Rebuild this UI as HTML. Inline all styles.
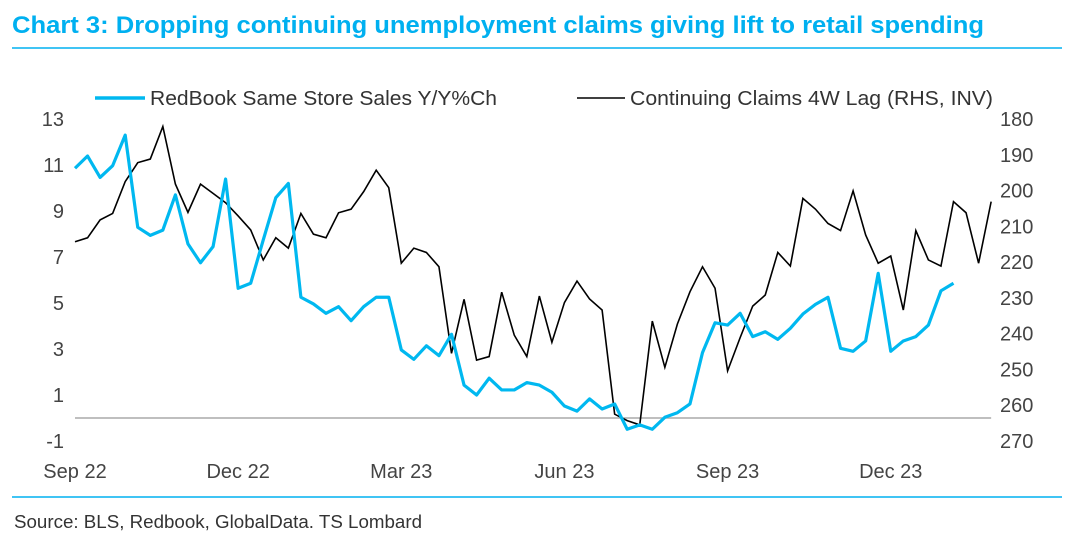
<!DOCTYPE html>
<html><head><meta charset="utf-8"><style>
body{margin:0;background:#fff;font-family:"Liberation Sans",sans-serif;}
#wrap{position:relative;width:1069px;height:542px;overflow:hidden;}
</style></head><body>
<div id="wrap">
<svg id="chart" width="1069" height="542">
<text x="12" y="33" font-size="24" font-weight="bold" fill="#00b0f0" textLength="972" lengthAdjust="spacingAndGlyphs">Chart 3: Dropping continuing unemployment claims giving lift to retail spending</text>
<line x1="12" y1="48" x2="1062" y2="48" stroke="#00b0f0" stroke-width="1.5"/>
<line x1="12" y1="497" x2="1062" y2="497" stroke="#00b0f0" stroke-width="1.5"/>
<text x="14" y="528" font-size="18" fill="#333" textLength="408" lengthAdjust="spacingAndGlyphs">Source: BLS, Redbook, GlobalData. TS Lombard</text>
<g>
<line x1="95" y1="98" x2="145" y2="98" stroke="#00b8f0" stroke-width="3.5"/>
<text x="150" y="105" font-size="20" fill="#333" textLength="347" lengthAdjust="spacingAndGlyphs">RedBook Same Store Sales Y/Y%Ch</text>
<line x1="577" y1="98" x2="625" y2="98" stroke="#000" stroke-width="1.5"/>
<text x="630" y="105" font-size="20" fill="#333" textLength="363" lengthAdjust="spacingAndGlyphs">Continuing Claims 4W Lag (RHS, INV)</text>
</g>
<g id="axes"></g>
<g id="marks"></g>
</svg>
</div>
<script>
const leftTicks=[13,11,9,7,5,3,1,-1];
const rightTicks=[180,190,200,210,220,230,240,250,260,270];
const xLabels=["Sep 22","Dec 22","Mar 23","Jun 23","Sep 23","Dec 23"];
const xLabelWeeks=[0,13,26,39,52,65];
const redbook=[10.86,11.39,10.46,10.97,12.3,8.29,7.94,8.17,9.7,7.57,6.75,7.45,10.39,5.64,5.86,7.74,9.58,10.2,5.25,4.96,4.55,4.84,4.23,4.84,5.25,5.25,2.96,2.55,3.14,2.71,3.64,1.43,1.0,1.73,1.22,1.22,1.54,1.43,1.12,0.52,0.3,0.83,0.39,0.61,-0.49,-0.3,-0.49,0.03,0.23,0.61,2.84,4.14,4.04,4.55,3.54,3.75,3.42,3.9,4.52,4.94,5.25,3.03,2.9,3.35,6.29,2.9,3.35,3.54,4.04,5.53,5.86];
const claims=[214.3,213.2,208.2,206.4,197.5,192.2,191.2,182.1,198.2,206.1,198.2,200.8,203.4,207.1,211,219.4,213.2,216.1,206.4,212.2,213.2,206.2,205.2,200.3,194.3,199.2,220.3,216.1,217.3,221.3,245.5,230.4,247.4,246.4,228.4,240.4,246.4,229.5,242.4,231.3,225.3,230.3,233.4,262.5,264.3,265.5,236.5,249.4,237.3,228.3,221.3,227.3,250.4,241.1,232.3,229.2,217.3,221.1,202.2,205.2,209.2,211.2,200.1,212.4,220.3,218.3,233.4,211.2,219.4,221.1,203.1,206.2,220.3,203.1];
const NS="http://www.w3.org/2000/svg";
const x0=75,dx=12.55,yTop=119,yBot=441;
function xs(i){return x0+i*dx;}
function yl(v){return yTop+(13-v)*(yBot-yTop)/14;}
function yr(v){return yTop+(v-180)*(yBot-yTop)/90;}
const axes=document.getElementById('axes'),marks=document.getElementById('marks');
function mk(tag,attrs,parent){const e=document.createElementNS(NS,tag);for(const k in attrs)e.setAttribute(k,attrs[k]);parent.appendChild(e);return e;}
leftTicks.forEach(v=>{const t=mk('text',{x:64,y:yl(v)+7,'font-size':20,fill:'#444','text-anchor':'end'},axes);t.textContent=v;

});
rightTicks.forEach(v=>{const t=mk('text',{x:1000,y:yr(v)+7,'font-size':20,fill:'#444'},axes);t.textContent=v;

});
xLabels.forEach((s,k)=>{const t=mk('text',{x:xs(xLabelWeeks[k]),y:478,'font-size':20,fill:'#444','text-anchor':'middle'},axes);t.textContent=s;

});
const zl=mk('line',{x1:x0,x2:xs(claims.length-1),y1:yl(0),y2:yl(0),stroke:'#aaa','stroke-width':1.5},axes);


const pc=mk('polyline',{points:claims.map((v,i)=>xs(i)+','+yr(v)).join(' '),fill:'none',stroke:'#000','stroke-width':1.6,'stroke-linejoin':'miter'},marks);


const pr=mk('polyline',{points:redbook.map((v,i)=>xs(i)+','+yl(v)).join(' '),fill:'none',stroke:'#00b8f0','stroke-width':3.2,'stroke-linejoin':'round'},marks);


</script>
</body></html>
